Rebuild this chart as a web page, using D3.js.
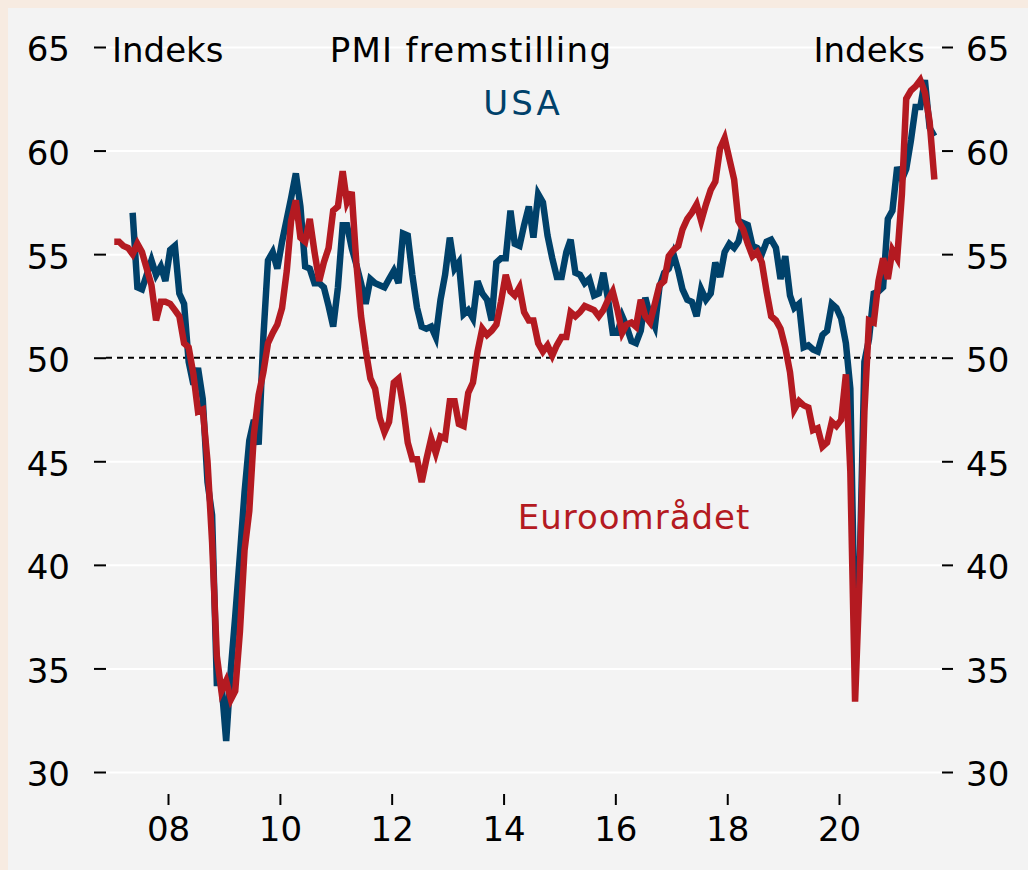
<!DOCTYPE html>
<html>
<head>
<meta charset="utf-8">
<script src="https://cdn.jsdelivr.net/npm/d3@7"></script>
<style>
  body { margin: 0; background: #f7ebe1; }
  svg { display: block; }
  text { font-family: "DejaVu Sans", sans-serif; }
</style>
</head>
<body>
<div id="wrapper"></div>
<script>
// data: monthly PMI, manufacturing
const startYear = 2007;
const euroStartMonth = 0;   // Jan 2007
const usaStartMonth = 4;    // May 2007

const euroValues = [
  55.6, 55.6, 55.4, 55.3, 55.0, 55.5, 55.1, 54.3, 53.5, 51.8, 52.7, 52.7,
  52.6, 52.3, 52.0, 50.7, 50.5, 49.2, 47.4, 47.5, 45.0, 41.1, 35.6, 33.9,
  34.4, 33.5, 33.9, 36.8, 40.7, 42.6, 46.3, 48.2, 49.3, 50.7, 51.2, 51.6,
  52.4, 54.2, 56.6, 57.6, 55.8, 55.6, 56.7, 55.1, 53.7, 54.6, 55.3, 57.1,
  57.3, 59.0, 57.5, 58.0, 54.6, 52.0, 50.4, 49.0, 48.5, 47.1, 46.4, 46.9,
  48.8, 49.0, 47.7, 45.9, 45.1, 45.1, 44.0, 45.1, 46.1, 45.4, 46.2, 46.1,
  47.9, 47.9, 46.8, 46.7, 48.3, 48.8, 50.3, 51.4, 51.1, 51.3, 51.6, 52.7,
  54.0, 53.2, 53.0, 53.4, 52.2, 51.8, 51.8, 50.7, 50.3, 50.6, 50.1, 50.6,
  51.0, 51.0, 52.2, 52.0, 52.2, 52.5, 52.4, 52.3, 52.0, 52.3, 52.8, 53.2,
  52.3, 51.2, 51.6, 51.7, 51.5, 52.8, 52.0, 51.7, 52.6, 53.5, 53.7, 54.9,
  55.2, 55.4, 56.2, 56.7, 57.0, 57.4, 56.6, 57.4, 58.1, 58.5, 60.1, 60.6,
  59.6, 58.6, 56.6, 56.2, 55.5, 54.9, 55.1, 54.6, 53.2, 52.0, 51.8, 51.4,
  50.5, 49.3, 47.5, 47.9, 47.7, 47.6, 46.5, 46.6, 45.7, 45.9, 46.9, 46.7,
  47.0, 49.2, 44.5, 33.4, 39.4, 47.4, 51.8, 51.7, 53.7, 54.8, 53.8, 55.2,
  54.8, 57.9, 62.5, 62.9, 63.1, 63.4, 62.8, 61.4, 58.6
];

const usaValues = [
                          57.0, 53.4, 53.3, 54.0, 54.7, 54.0, 54.4, 53.7,
  55.2, 55.4, 53.1, 52.6, 49.8, 48.7, 49.5, 48.0, 44.0, 42.4, 34.3, 34.3,
  31.5, 35.0, 37.5, 40.5, 43.5, 46.0, 47.0, 45.8, 51.0, 54.7, 55.1, 54.3,
  55.6, 56.7, 57.7, 58.9, 57.3, 54.4, 54.3, 53.6, 53.6, 53.4, 52.5, 51.5,
  53.4, 56.4, 56.4, 55.3, 54.5, 53.6, 52.6, 53.8, 53.6, 53.5, 53.4, 53.8,
  54.2, 53.6, 56.0, 55.9, 54.0, 52.4, 51.5, 51.4, 51.5, 51.0, 52.8, 54.0,
  55.8, 54.3, 54.6, 52.1, 52.3, 51.9, 53.7, 53.1, 52.8, 51.8, 54.6, 54.8,
  54.8, 57.1, 55.5, 55.4, 56.4, 57.3, 55.8, 57.9, 57.5, 55.9, 54.8, 53.9,
  53.9, 55.1, 55.7, 54.1, 54.0, 53.6, 53.8, 53.0, 53.1, 54.1, 52.8, 51.2,
  51.2, 52.0, 51.5, 50.8, 50.7, 51.3, 52.9, 52.0, 51.5, 53.4, 54.1, 54.3,
  55.0, 54.2, 53.3, 52.8, 52.7, 52.0, 53.3, 52.8, 53.1, 54.6, 53.9, 55.1,
  55.5, 55.3, 55.6, 56.5, 56.4, 55.4, 55.3, 55.0, 55.6, 55.7, 55.3, 53.8,
  54.9, 53.0, 52.4, 52.6, 50.5, 50.6, 50.4, 50.3, 51.1, 51.3, 52.6, 52.4,
  51.9, 50.7, 48.5, 36.1, 39.8, 49.8, 50.9, 53.1, 53.2, 53.4, 56.7, 57.1,
  59.2, 58.6, 59.1, 60.5, 62.1, 62.1, 63.4, 61.1, 60.7
];

const yTickValues = [30, 35, 40, 45, 50, 55, 60, 65];
const xTickYears = [2008, 2010, 2012, 2014, 2016, 2018, 2020];
const titleText = "PMI fremstilling";
const unitText = "Indeks";
const usaLabel = "USA";
const euroLabel = "Euroområdet";

function drawChart() {
  // step 1: access data
  const toSeries = (values, start) =>
    values.map((v, i) => ({ date: new Date(startYear, start + i, 15), value: v }));
  const euro = toSeries(euroValues, euroStartMonth);
  const usa = toSeries(usaValues, usaStartMonth);
  const xAccessor = d => d.date;
  const yAccessor = d => d.value;

  // step 2: dimensions
  let dimensions = {
    width: 1028,
    height: 870,
    margin: { top: 47, right: 86, bottom: 98, left: 106 },
  };
  dimensions.boundWidth = dimensions.width - dimensions.margin.left - dimensions.margin.right;
  dimensions.boundHeight = dimensions.height - dimensions.margin.top - dimensions.margin.bottom;

  // step 3: canvas
  const wrapper = d3.select('#wrapper')
    .append('svg')
    .attr('width', dimensions.width)
    .attr('height', dimensions.height);
  wrapper.append('rect')
    .attr('x', 8).attr('y', 8)
    .attr('width', dimensions.width - 8)
    .attr('height', dimensions.height - 8)
    .attr('fill', '#f3f3f3');
  const bounds = wrapper.append('g')
    .attr('transform', `translate(${dimensions.margin.left}, ${dimensions.margin.top})`);

  // step 4: scales
  const xScale = d3.scaleTime()
    .domain([new Date(2008, 0, 1), new Date(2020, 0, 1)])
    .range([62, 733]);
  const yScale = d3.scaleLinear()
    .domain([30, 65])
    .range([dimensions.boundHeight, 0]);

  // gridlines
  const grid = bounds.append('g')
    .call(d3.axisLeft(yScale).tickValues(yTickValues).tickSize(-dimensions.boundWidth).tickFormat(''));
  grid.select('.domain').remove();
  grid.selectAll('line').attr('stroke', '#ffffff').attr('stroke-width', 2);

  bounds.append('line')
    .attr('x1', 0).attr('x2', dimensions.boundWidth)
    .attr('y1', yScale(50)).attr('y2', yScale(50))
    .attr('stroke', '#000').attr('stroke-width', 2)
    .attr('stroke-dasharray', '6,5');

  // step 5: lines
  const lineGenerator = d3.line()
    .x(d => xScale(xAccessor(d)))
    .y(d => yScale(yAccessor(d)));
  bounds.append('path')
    .attr('d', lineGenerator(usa))
    .attr('fill', 'none')
    .attr('stroke', '#00416a')
    .attr('stroke-width', 6.5);
  bounds.append('path')
    .attr('d', lineGenerator(euro))
    .attr('fill', 'none')
    .attr('stroke', '#b41a21')
    .attr('stroke-width', 6.5);

  // step 6: peripherals
  const fontSize = 34;
  const styleAxis = g => {
    g.select('.domain').remove();
    g.selectAll('line').attr('stroke', '#000').attr('stroke-width', 2);
    g.selectAll('text').attr('fill', '#000').style('font-size', fontSize + 'px')
      .style('font-family', '"DejaVu Sans", sans-serif');
  };
  const yAxisLeft = bounds.append('g')
    .call(d3.axisLeft(yScale).tickValues(yTickValues).tickSize(12).tickPadding(24))
    .call(styleAxis);
  yAxisLeft.selectAll('text').attr('dy', '0.41em');
  const yAxisRight = bounds.append('g')
    .attr('transform', `translate(${dimensions.boundWidth}, 0)`)
    .call(d3.axisRight(yScale).tickValues(yTickValues).tickSize(11).tickPadding(13))
    .call(styleAxis);
  yAxisRight.selectAll('text').attr('dy', '0.41em');

  const xAxis = bounds.append('g')
    .attr('transform', `translate(0, ${dimensions.boundHeight + 22})`)
    .call(d3.axisBottom(xScale)
      .tickValues(xTickYears.map(y => new Date(y, 0, 1)))
      .tickFormat(d3.timeFormat('%y'))
      .tickSize(11).tickPadding(12))
    .call(styleAxis);

  bounds.append('text')
    .attr('x', 6).attr('y', 15)
    .style('font-size', fontSize + 'px')
    .text(unitText);
  bounds.append('text')
    .attr('x', 819).attr('y', 15)
    .attr('text-anchor', 'end')
    .style('font-size', fontSize + 'px')
    .text(unitText);
  bounds.append('text')
    .attr('x', 365).attr('y', 15)
    .attr('text-anchor', 'middle')
    .style('font-size', fontSize + 'px')
    .style('letter-spacing', '1.3px')
    .text(titleText);
  bounds.append('text')
    .attr('x', 417).attr('y', 68)
    .attr('text-anchor', 'middle')
    .attr('fill', '#00416a')
    .style('font-size', fontSize + 'px')
    .style('letter-spacing', '3px')
    .text(usaLabel);
  bounds.append('text')
    .attr('x', 528).attr('y', 482)
    .attr('text-anchor', 'middle')
    .attr('fill', '#b41a21')
    .style('font-size', fontSize + 'px')
    .style('letter-spacing', '1px')
    .text(euroLabel);
}
drawChart();
</script>
</body>
</html>
